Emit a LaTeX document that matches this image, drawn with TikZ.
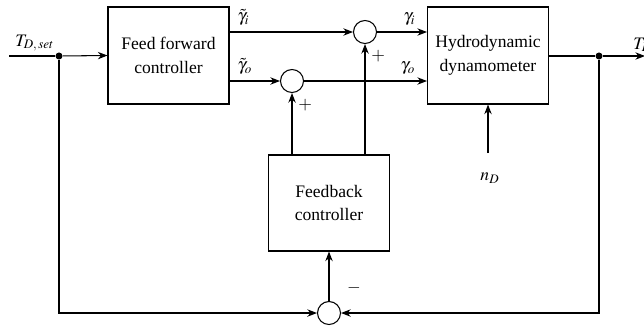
\documentclass[tikz,border=0pt]{standalone}
\usepackage{mathptmx}
\usepackage{fontspec}
\setmainfont{Liberation Serif}
\usepackage{tikz}
\usetikzlibrary{positioning,arrows.meta}

\begin{document}
\begin{tikzpicture}[x=0.02cm, y=-0.02cm, font=\fontsize{10}{13.5}\selectfont, line width=0.6pt]
  \tikzstyle{block}=[rectangle,draw,line width=0.6pt,minimum width=2.42cm,
                     minimum height=1.94cm,align=center]
  \tikzstyle{sum}=[circle,draw,line width=0.6pt,minimum size=0.46cm,inner sep=0pt]
  \tikzstyle{dot}=[circle,fill,inner sep=0pt,minimum size=4pt]
  \tikzstyle{arr}=[-{Stealth[length=5.5pt,width=4.2pt,inset=1.8pt]}]
  \useasboundingbox (0,0) rectangle (644,329);
  % blocks
  \node[block](ff) at (168.5,55.5){Feed forward\\controller};
  \node[block](dyno) at (488,55.5){Hydrodynamic\\dynamometer};
  \node[block,minimum height=1.92cm](fb) at (329,203){Feedback\\controller};
  % summing points and branches
  \node[sum](sumi) at (365,32){};
  \node[sum](sumo) at (292,81){};
  \node[sum](sumfb) at (329,313){};
  \node[dot](din) at (59,56){};
  \node[dot](dout) at (599,56){};
  \coordinate (in) at (9,56);
  \coordinate (out) at (645,56);
  \coordinate (nd) at (488,153);
  % forward path
  \draw (in) node[above right=-1pt and 0pt]{$T_{D,\,set}$} -- (din);
  \draw[arr] (din) -- (ff.west);
  \draw[arr] (ff.east |- sumi) node[above right=0pt and 1pt]{$\tilde{\gamma}_i$} -- (sumi.west);
  \draw[arr] (ff.east |- sumo) node[above right=0pt and 1pt]{$\tilde{\gamma}_o$} -- (sumo.west);
  \draw[arr] (sumi.east) -- (dyno.west |- sumi) node[above left=0pt and 3pt]{$\gamma_i$};
  \draw[arr] (sumo.east) -- (dyno.west |- sumo) node[above left=0pt and 3pt]{$\gamma_o$};
  \draw (dyno.east |- dout) -- (dout);
  \draw[arr] (dout) -- (out);
  \node[anchor=base west](tdlabel) at (627,49){$T_D$};
  \draw[arr] (nd) -- (dyno.south);
  \node(ndlabel) at (490,178){$n_D$};
  % feedback path
  \draw[arr] (fb.north -| sumo) -- (sumo.south) node[below right]{$+$};
  \draw[arr] (fb.north -| sumi) -- (sumi.south) node[below right]{$+$};
  \draw[arr] (din) |- (sumfb.west);
  \draw[arr] (dout) |- (sumfb.east);
  \draw[arr] (sumfb.north) -- (fb.south);
  \node(minus) at (354,288){$-$};
\end{tikzpicture}
\end{document}
